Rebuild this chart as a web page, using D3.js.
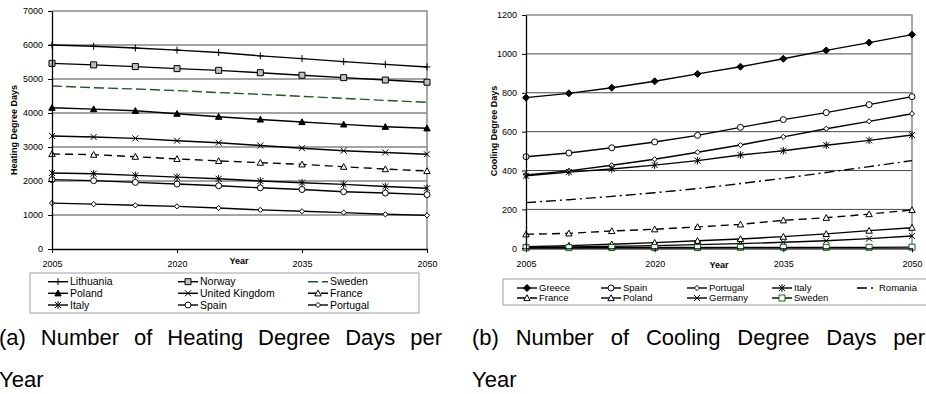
<!DOCTYPE html>
<html>
<head>
<meta charset="utf-8">
<script src="https://cdn.jsdelivr.net/npm/d3@7"></script>
<style>
    body { margin: 0; background: #fff; }
    svg { display: block; font-family: "Liberation Sans", Arial, sans-serif; }
</style>
</head>
<body>
<script>
const years = [2005, 2010, 2015, 2020, 2025, 2030, 2035, 2040, 2045, 2050];
const xTickYears = [2005, 2020, 2035, 2050];

// (a) heating degree days
const heatingCountries = ["Lithuania", "Norway", "Sweden", "Poland", "United Kingdom", "France", "Italy", "Spain", "Portugal"];
const heatingValues = [
    [6000, 5965, 5910, 5850, 5780, 5680, 5600, 5510, 5430, 5355],
    [5460, 5415, 5365, 5305, 5255, 5185, 5110, 5040, 4970, 4905],
    [4795, 4745, 4705, 4660, 4600, 4550, 4490, 4430, 4370, 4315],
    [4155, 4115, 4065, 3980, 3890, 3810, 3735, 3665, 3595, 3550],
    [3325, 3295, 3255, 3185, 3125, 3045, 2965, 2890, 2840, 2785],
    [2795, 2775, 2715, 2650, 2590, 2540, 2490, 2420, 2350, 2295],
    [2235, 2215, 2165, 2115, 2065, 2000, 1950, 1900, 1840, 1785],
    [2040, 2010, 1960, 1910, 1860, 1800, 1750, 1685, 1645, 1600],
    [1350, 1320, 1285, 1255, 1205, 1150, 1110, 1070, 1020, 990]
];
const heatingTicks = [0, 1000, 2000, 3000, 4000, 5000, 6000, 7000];

// (b) cooling degree days
const coolingCountries = ["Greece", "Spain", "Portugal", "Italy", "Romania", "France", "Poland", "Germany", "Sweden"];
const coolingValues = [
    [775, 797, 826, 859, 897, 934, 975, 1018, 1058, 1099],
    [471, 490, 517, 547, 581, 622, 662, 698, 739, 780],
    [377, 398, 427, 458, 494, 531, 573, 615, 653, 692],
    [373, 392, 408, 428, 451, 480, 502, 530, 555, 583],
    [235, 250, 267, 286, 307, 333, 360, 390, 420, 451],
    [72, 77, 89, 98, 110, 123, 144, 157, 176, 197],
    [8, 14, 21, 29, 39, 48, 60, 74, 91, 106],
    [5, 7, 10, 14, 19, 24, 31, 39, 50, 63],
    [3, 3, 4, 4, 4, 5, 5, 5, 5, 6]
];
const coolingTicks = [0, 200, 400, 600, 800, 1000, 1200];

const markerShapes = {
    plus: "M-3.5,0H3.5M0,-3.5V3.5",
    square: "M-3,-3H3V3H-3Z",
    triangle: "M0,-3.2L3.2,2.6H-3.2Z",
    cross: "M-3,-3L3,3M-3,3L3,-3",
    star: "M-3,-3L3,3M-3,3L3,-3M0,-3.8V3.8",
    circle: "M3,0A3,3 0 1,1 -3,0A3,3 0 1,1 3,0Z",
    diamond: "M0,-3.5L3.5,0L0,3.5L-3.5,0Z",
    smallDiamond: "M0,-2.6L2.6,0L0,2.6L-2.6,0Z",
    none: ""
};

const heatingStyles = [
    { marker: "plus", fill: "none", mstroke: "#000", stroke: "#000", dash: null },
    { marker: "square", fill: "#c0c0c0", mstroke: "#000", stroke: "#000", dash: null },
    { marker: "none", fill: "none", mstroke: "#000", stroke: "#1d5a1d", dash: "10,4" },
    { marker: "triangle", fill: "#000", mstroke: "#000", stroke: "#000", dash: null },
    { marker: "cross", fill: "none", mstroke: "#000", stroke: "#000", dash: null },
    { marker: "triangle", fill: "#fff", mstroke: "#000", stroke: "#000", dash: "8,5" },
    { marker: "star", fill: "none", mstroke: "#000", stroke: "#000", dash: null },
    { marker: "circle", fill: "#fff", mstroke: "#000", stroke: "#000", dash: null },
    { marker: "smallDiamond", fill: "#fff", mstroke: "#000", stroke: "#000", dash: null }
];

const coolingStyles = [
    { marker: "diamond", fill: "#000", mstroke: "#000", stroke: "#000", dash: null },
    { marker: "circle", fill: "#fff", mstroke: "#000", stroke: "#000", dash: null },
    { marker: "smallDiamond", fill: "#fff", mstroke: "#000", stroke: "#000", dash: null },
    { marker: "star", fill: "none", mstroke: "#000", stroke: "#000", dash: null },
    { marker: "none", fill: "none", mstroke: "#000", stroke: "#000", dash: "10,4,2,4" },
    { marker: "triangle", fill: "#fff", mstroke: "#000", stroke: "#000", dash: "8,5" },
    { marker: "triangle", fill: "#fff", mstroke: "#000", stroke: "#000", dash: null },
    { marker: "cross", fill: "none", mstroke: "#000", stroke: "#000", dash: null },
    { marker: "square", fill: "#fff", mstroke: "#0a6a0a", stroke: "#000", dash: null }
];

const svg = d3.select("body")
    .append("svg")
    .attr("width", 926)
    .attr("height", 394);

function drawMarker(g, style, x, y) {
    if (style.marker === "none") return;
    g.append("path")
        .attr("d", markerShapes[style.marker])
        .attr("transform", `translate(${x},${y})`)
        .attr("fill", style.fill)
        .attr("stroke", style.mstroke)
        .attr("stroke-width", 1);
}

function drawChart(opt) {
    const g = svg.append("g");
    const xScale = d3.scalePoint(years, [opt.left, opt.right]);
    const yScale = d3.scaleLinear([0, opt.yMax], [opt.bottom, opt.top]);

    // grid lines
    g.append("g")
        .selectAll("line")
        .data(opt.ticks.filter(t => t > 0 && t < opt.yMax))
        .enter()
        .append("line")
        .attr("x1", opt.left)
        .attr("x2", opt.right)
        .attr("y1", d => yScale(d))
        .attr("y2", d => yScale(d))
        .attr("stroke", "#333")
        .attr("stroke-width", 0.9);

    // top and right border
    g.append("path")
        .attr("d", `M${opt.left},${yScale(opt.yMax)}H${opt.right}V${opt.bottom}`)
        .attr("fill", "none")
        .attr("stroke", "#8a8a8a")
        .attr("stroke-width", 1.5);

    // series
    const line = d3.line()
        .x((d, i) => xScale(years[i]))
        .y(d => yScale(d));

    opt.values.forEach((vals, k) => {
        const st = opt.styles[k];
        g.append("path")
            .attr("d", line(vals))
            .attr("fill", "none")
            .attr("stroke", st.stroke)
            .attr("stroke-width", 1.4)
            .attr("stroke-dasharray", st.dash);
        vals.forEach((v, i) => drawMarker(g, st, xScale(years[i]), yScale(v)));
    });

    // axes
    const yAxis = d3.axisLeft(yScale)
        .tickValues(opt.ticks)
        .tickFormat(d3.format("d"))
        .tickSize(4)
        .tickPadding(5)
        .tickSizeOuter(0);
    const ya = g.append("g")
        .attr("transform", `translate(${opt.left},0)`)
        .call(yAxis);
    const xAxis = d3.axisBottom(xScale)
        .tickValues(xTickYears)
        .tickFormat(d3.format("d"))
        .tickSize(4)
        .tickPadding(8)
        .tickSizeOuter(0);
    const xa = g.append("g")
        .attr("transform", `translate(0,${opt.bottom})`)
        .call(xAxis);
    [ya, xa].forEach(a => {
        a.selectAll(".domain").attr("stroke", "#000").attr("stroke-width", 1.3);
        a.selectAll(".tick line").attr("stroke", "#000");
        a.selectAll("text")
            .attr("fill", "#000")
            .style("font-size", "9px")
            .style("font-family", "Liberation Sans, Arial, sans-serif");
    });

    g.append("text")
        .attr("transform", `translate(${opt.yLabelX},${opt.yLabelY}) rotate(-90)`)
        .attr("text-anchor", "middle")
        .attr("dy", "0.35em")
        .style("font-size", "9px")
        .style("font-weight", "bold")
        .text(opt.yLabel);

    g.append("text")
        .attr("x", opt.yearX)
        .attr("y", opt.yearY)
        .attr("text-anchor", "middle")
        .attr("dy", "0.35em")
        .style("font-size", "9px")
        .style("font-weight", "bold")
        .text("Year");

    // legend
    const lg = opt.legend;
    g.append("rect")
        .attr("x", lg.x0)
        .attr("y", lg.y0)
        .attr("width", lg.x1 - lg.x0)
        .attr("height", lg.y1 - lg.y0)
        .attr("fill", "#fff")
        .attr("stroke", "#a0a0a0")
        .attr("stroke-width", 1);

    opt.names.forEach((name, k) => {
        const st = opt.styles[k];
        const col = lg.order[k][0];
        const row = lg.order[k][1];
        const lx = lg.cols[col];
        const ly = lg.rows[row];
        g.append("line")
            .attr("x1", lx)
            .attr("x2", lx + lg.lineLen)
            .attr("y1", ly)
            .attr("y2", ly)
            .attr("stroke", st.stroke)
            .attr("stroke-width", 1.4)
            .attr("stroke-dasharray", st.dash);
        drawMarker(g, st, lx + lg.lineLen / 2, ly);
        g.append("text")
            .attr("x", lx + lg.lineLen + 2)
            .attr("y", ly)
            .attr("dy", "0.35em")
            .style("font-size", lg.fontSize + "px")
            .text(name);
    });
}

drawChart({
    left: 52, right: 427, top: 11, bottom: 249, yMax: 7000,
    ticks: heatingTicks, values: heatingValues, styles: heatingStyles, names: heatingCountries,
    yLabel: "Heating Degree Days", yLabelX: 14, yLabelY: 130,
    yearX: 239, yearY: 261,
    legend: {
        x0: 30, x1: 419, y0: 273, y1: 313,
        cols: [48, 178, 308], rows: [281.7, 293.3, 305], lineLen: 20, fontSize: 10.5,
        order: [[0, 0], [1, 0], [2, 0], [0, 1], [1, 1], [2, 1], [0, 2], [1, 2], [2, 2]]
    }
});

drawChart({
    left: 526, right: 912, top: 15, bottom: 248.3, yMax: 1200,
    ticks: coolingTicks, values: coolingValues, styles: coolingStyles, names: coolingCountries,
    yLabel: "Cooling Degree Days", yLabelX: 494, yLabelY: 131,
    yearX: 719, yearY: 265,
    legend: {
        x0: 503, x1: 932, y0: 279, y1: 305,
        cols: [517, 601, 687, 772, 857], rows: [288, 298], lineLen: 20, fontSize: 9.5,
        order: [[0, 0], [1, 0], [2, 0], [3, 0], [4, 0], [0, 1], [1, 1], [2, 1], [3, 1]]
    }
});

// captions, first line justified word by word
const captionSize = 22;

function justifiedLine(text, x0, x1, y) {
    const words = text.split(" ");
    const nodes = words.map(w => svg.append("text")
        .attr("y", y)
        .style("font-size", captionSize + "px")
        .attr("fill", "#000")
        .text(w));
    const widths = nodes.map(n => n.node().getComputedTextLength());
    const gap = (x1 - x0 - d3.sum(widths)) / (words.length - 1);
    let x = x0;
    nodes.forEach((n, i) => {
        n.attr("x", x);
        x += widths[i] + gap;
    });
}

justifiedLine("(a) Number of Heating Degree Days per", -1, 442, 345);
justifiedLine("(b) Number of Cooling Degree Days per", 472, 925, 345);
svg.append("text").attr("x", -1).attr("y", 387).style("font-size", captionSize + "px").text("Year");
svg.append("text").attr("x", 472).attr("y", 387).style("font-size", captionSize + "px").text("Year");
</script>
</body>
</html>
